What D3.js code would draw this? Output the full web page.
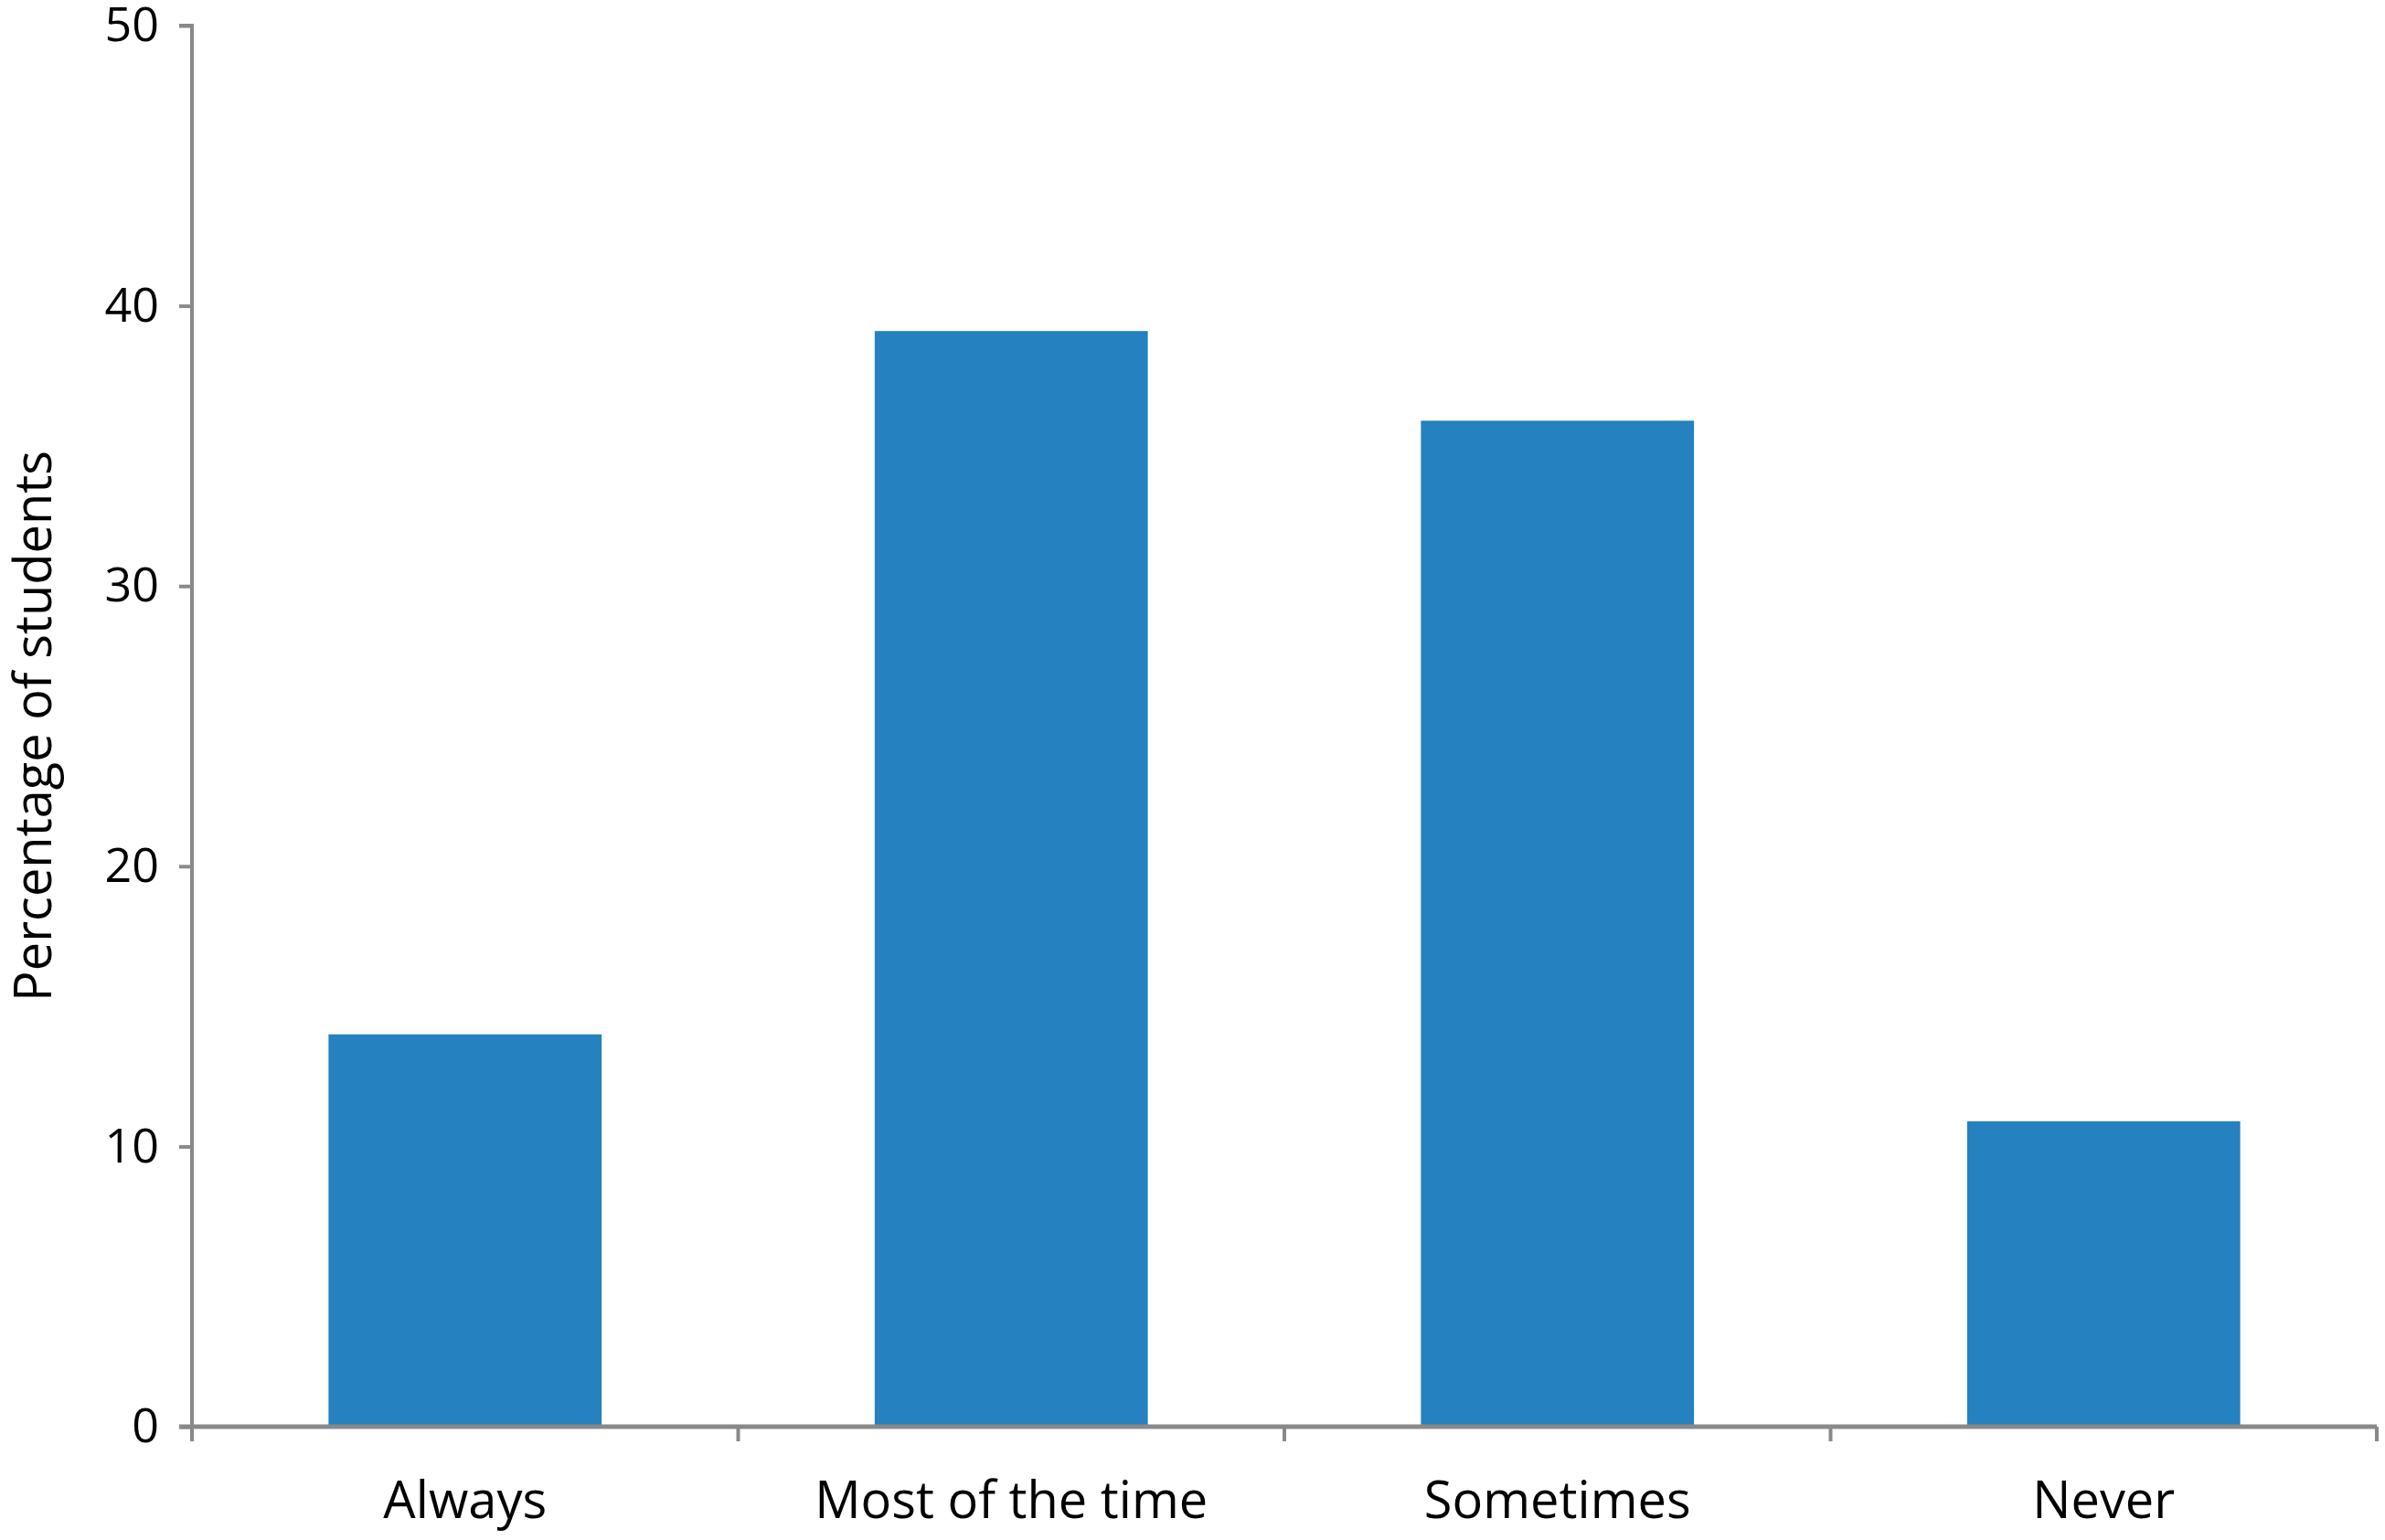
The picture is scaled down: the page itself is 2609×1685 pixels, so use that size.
<!DOCTYPE html><html><head><meta charset="utf-8">
<script src="https://cdn.jsdelivr.net/npm/d3@7"></script>
<style>body{margin:0;background:#fff}</style></head><body>
<script>
const categories=["Always","Most of the time","Sometimes","Never"];
const values=[14,39.1,35.9,10.9];
const yTicks=[0,10,20,30,40,50];
const W=2609,H=1685,m={l:210,r:9,t:28,b:124};
const svg=d3.select("body").append("svg").attr("width",W).attr("height",H).style("font-family","'Open Sans',sans-serif");
const x=d3.scaleBand().domain(categories).range([m.l,W-m.r]).paddingInner(0.5).paddingOuter(0.25);
const y=d3.scaleLinear().domain([0,50]).range([H-m.b,m.t]);
svg.selectAll("rect").data(values).join("rect").attr("x",(d,i)=>x(categories[i])).attr("width",x.bandwidth())
 .attr("y",d=>y(d)).attr("height",d=>y(0)-y(d)).attr("fill","#2581BF");
const g="#898989";
const ya=svg.append("g").attr("transform",`translate(${m.l},0)`).call(d3.axisLeft(y).tickValues(yTicks).tickSize(14).tickPadding(22));
ya.selectAll("path,line").attr("stroke",g).attr("stroke-width",4);
ya.select(".domain").attr("d",`M-14,${y(50)}H0V${y(0)+12}`);
ya.selectAll("text").attr("font-size",52).attr("fill","#000").attr("font-family","'Open Sans',sans-serif");
const xa=svg.append("g").attr("transform",`translate(0,${y(0)})`);
xa.append("line").attr("x1",m.l-14).attr("x2",W-m.r).attr("stroke",g).attr("stroke-width",5);
const bounds=d3.range(categories.length+1).map(i=>m.l+i*(W-m.r-m.l)/categories.length);
xa.selectAll(".tk").data(bounds).join("line").attr("x1",d=>d).attr("x2",d=>d).attr("y1",0).attr("y2",16).attr("stroke",g).attr("stroke-width",4);
xa.selectAll("text").data(categories).join("text").attr("x",d=>x(d)+x.bandwidth()/2).attr("y",100).attr("text-anchor","middle").attr("font-size",56).attr("textLength",null).text(d=>d);
svg.append("text").attr("transform",`translate(56,${(y(0)+y(50))/2}) rotate(-90)`).attr("text-anchor","middle").attr("font-size",56).text("Percentage of students");
</script></body></html>
